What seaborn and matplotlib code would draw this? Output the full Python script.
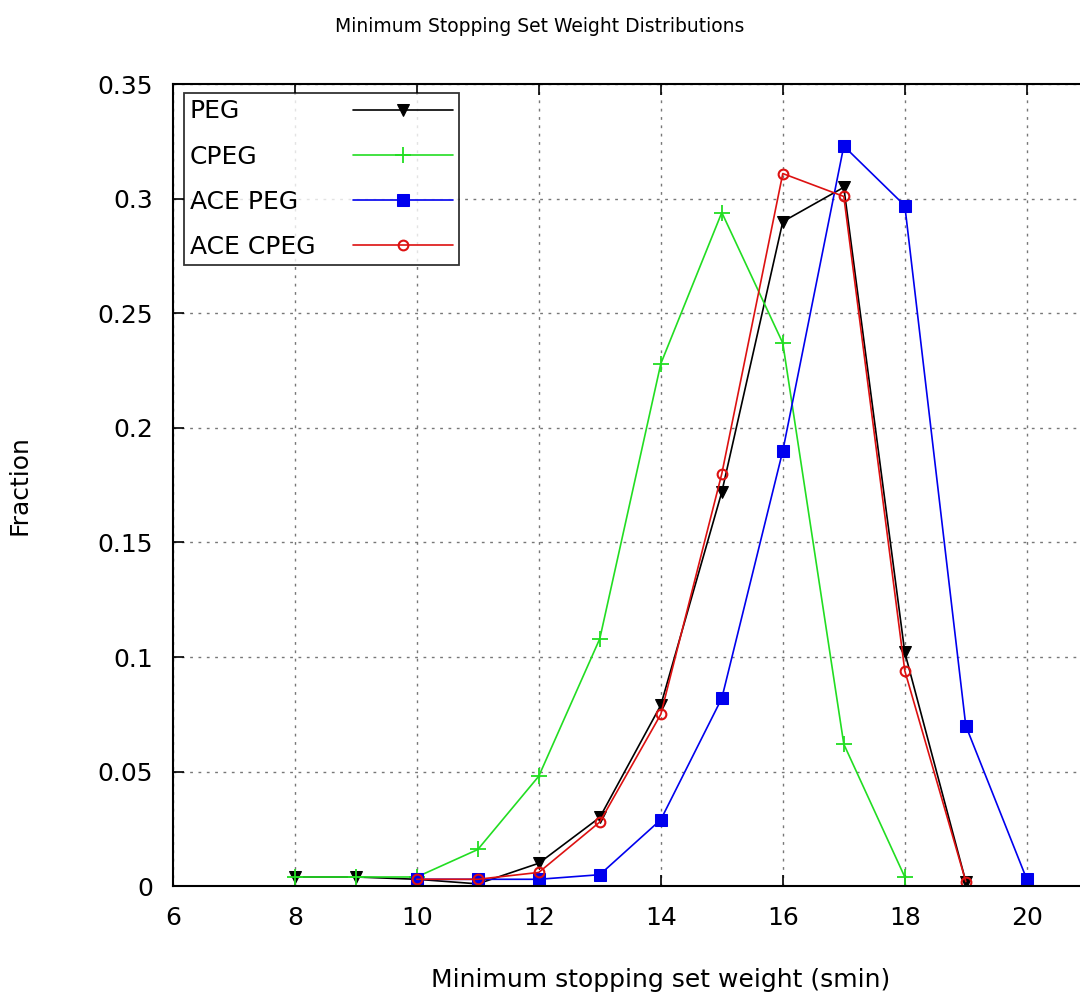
import matplotlib
matplotlib.use("Agg")
import matplotlib.pyplot as plt
from matplotlib import font_manager
import seaborn as sns
import pandas as pd

x_peg = [8, 9, 10, 11, 12, 13, 14, 15, 16, 17, 18, 19]
peg = [0.004, 0.004, 0.003, 0.001, 0.010, 0.030, 0.079, 0.172, 0.290, 0.305, 0.102, 0.002]

x_cpeg = [8, 9, 10, 11, 12, 13, 14, 15, 16, 17, 18]
cpeg = [0.004, 0.004, 0.004, 0.016, 0.048, 0.108, 0.228, 0.294, 0.237, 0.062, 0.004]

x_ace_peg = [10, 11, 12, 13, 14, 15, 16, 17, 18, 19, 20]
ace_peg = [0.003, 0.003, 0.003, 0.005, 0.029, 0.082, 0.190, 0.323, 0.297, 0.070, 0.003]

x_ace_cpeg = [10, 11, 12, 13, 14, 15, 16, 17, 18, 19]
ace_cpeg = [0.003, 0.003, 0.006, 0.028, 0.075, 0.180, 0.311, 0.301, 0.094, 0.002]

labels = ["PEG", "CPEG", "ACE PEG", "ACE CPEG"]
xticks = [6, 8, 10, 12, 14, 16, 18, 20, 22]
xticklabels = ["6", "8", "10", "12", "14", "16", "18", "20", ""]
yticks = [0, 0.05, 0.1, 0.15, 0.2, 0.25, 0.3, 0.35]
yticklabels = ["0", "0.05", "0.1", "0.15", "0.2", "0.25", "0.3", "0.35"]

sns.set_style("white")
names = {f.name for f in font_manager.fontManager.ttflist}
fam = [n for n in ["Liberation Sans Narrow", "DejaVu Sans Condensed", "DejaVu Sans"] if n in names]
plt.rcParams['font.family'] = fam
for k in ["text.color", "axes.labelcolor", "xtick.color", "ytick.color"]:
    plt.rcParams[k] = "black"

fig = plt.figure(figsize=(10.8, 10.07), dpi=100)
ax = fig.add_axes([0.160, 0.120, 0.9037, 0.7964])

series = [
    (x_peg, peg, labels[0], "black", "v", dict(markerfacecolor="black", markeredgecolor="black", markersize=9)),
    (x_cpeg, cpeg, labels[1], "#22dd22", "+", dict(markeredgecolor="#22dd22", markersize=11, markeredgewidth=1.3)),
    (x_ace_peg, ace_peg, labels[2], "#0000ee", "s", dict(markerfacecolor="#0000ee", markeredgecolor="#0000ee", markersize=9)),
    (x_ace_cpeg, ace_cpeg, labels[3], "#dd1111", "o", dict(markerfacecolor="none", markeredgecolor="#dd1111", markersize=7, markeredgewidth=1.5)),
]
for xs, ys, lab, col, mk, kw in series:
    df = pd.DataFrame({"x": xs, "y": ys})
    sns.lineplot(data=df, x="x", y="y", ax=ax, color=col, marker=mk, label=lab,
                 linewidth=1.2, **kw)

ax.set_xlim(6, 22)
ax.set_ylim(0, 0.35)
ax.set_xticks(xticks)
ax.set_yticks(yticks)
ax.set_xticklabels(xticklabels)
ax.set_yticklabels(yticklabels)
ax.grid(True, linestyle=(0, (2, 4)), color="#777777", linewidth=1.0)
ax.tick_params(direction="in", length=8, width=1.2, labelsize=18, pad=14,
               top=True, right=True, bottom=True, left=True)
for s in ax.spines.values():
    s.set_color("black")
    s.set_linewidth(1.5)

ax.set_xlabel("Minimum stopping set weight (smin)", fontsize=18, labelpad=28)
ax.set_ylabel("Fraction", fontsize=18, labelpad=48)
fig.text(0.5, 0.974, "Minimum Stopping Set Weight Distributions", ha="center", va="center", fontsize=13.5)

leg = ax.legend(loc="upper left", bbox_to_anchor=(0.011, 0.989), markerfirst=False,
                fontsize=18, frameon=True, fancybox=False, edgecolor="black",
                handlelength=4.0, borderpad=0.25, labelspacing=0.85, handletextpad=1.5,
                borderaxespad=0)
leg.get_frame().set_linewidth(1.3)

# left-align legend texts: equalize row widths
fig.canvas.draw()
renderer = fig.canvas.get_renderer()
texts = leg.get_texts()
widths = [t.get_window_extent(renderer).width for t in texts]
maxw = max(widths)
base = 1.5 * 18  # points
rows = []
for col in leg._legend_handle_box.get_children():
    rows.extend(col.get_children())
for row, w in zip(rows, widths):
    row.sep = base + (maxw - w) * 72.0 / fig.dpi
for col in leg._legend_handle_box.get_children():
    col.align = "left"

fig.savefig("out.png", dpi=100)
